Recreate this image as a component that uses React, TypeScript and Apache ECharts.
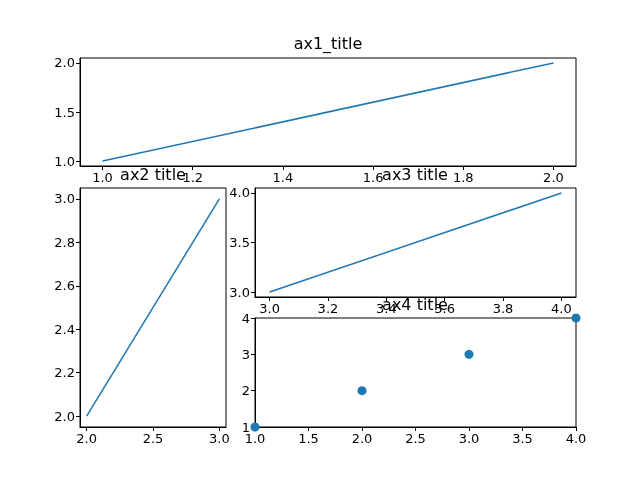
import React, { useEffect, useRef } from "react";
import * as echarts from "echarts";

const ax1X = [1, 2];
const ax1Y = [1, 2];
const ax2X = [2, 3];
const ax2Y = [2, 3];
const ax3X = [3, 4];
const ax3Y = [3, 4];
const ax4X = [1, 2, 3, 4];
const ax4Y = [1, 2, 3, 4];

const ax1XTicks = [1.0, 1.2, 1.4, 1.6, 1.8, 2.0];
const ax1YTicks = [1.0, 1.5, 2.0];
const ax2XTicks = [2.0, 2.5, 3.0];
const ax2YTicks = [2.0, 2.2, 2.4, 2.6, 2.8, 3.0];
const ax3XTicks = [3.0, 3.2, 3.4, 3.6, 3.8, 4.0];
const ax3YTicks = [3.0, 3.5, 4.0];
const ax4XTicks = [1.0, 1.5, 2.0, 2.5, 3.0, 3.5, 4.0];
const ax4YTicks = [1, 2, 3, 4];

const C = "#1f77b4";
const FONT = "DejaVu Sans";

function axis(i: number, min: number, max: number, ticks: number[], dec: number, isX: boolean) {
  return {
    type: "value",
    gridIndex: i,
    min,
    max,
    position: isX ? "bottom" : "left",
    axisLine: { show: true, onZero: false, lineStyle: { color: "#000", width: 1 } },
    axisTick: { show: true, length: 4, lineStyle: { color: "#000" }, customValues: ticks },
    axisLabel: {
      color: "#000",
      fontFamily: FONT,
      fontSize: 13,
      margin: 5,
      customValues: ticks,
      formatter: (v: number) => v.toFixed(dec),
    },
    splitLine: { show: false },
  };
}

const grids = [
  { left: 80, top: 58, width: 496, height: 108 },
  { left: 80, top: 188, width: 146, height: 239 },
  { left: 255, top: 188, width: 321, height: 109 },
  { left: 255, top: 318, width: 321, height: 109 },
].map((g) => ({ ...g, show: true, borderColor: "#000", borderWidth: 1, backgroundColor: "transparent" }));

function title(text: string, x: number, y: number) {
  return { text, left: x, top: y, textAlign: "center", padding: 0, textStyle: { fontFamily: FONT, fontSize: 16, fontWeight: "normal", color: "#000" } };
}

export default function App() {
  const ref = useRef<HTMLDivElement>(null);
  useEffect(() => {
    const chart = echarts.init(ref.current!, null, { renderer: "svg" });
    chart.setOption({
      animation: false,
      title: [
        title("ax1_title", 328, 35),
        title("ax2 title", 153, 166),
        title("ax3 title", 415, 166),
        title("ax4 title", 415, 296),
      ],
      grid: grids,
      xAxis: [
        axis(0, 0.95, 2.05, ax1XTicks, 1, true),
        axis(1, 1.95, 3.05, ax2XTicks, 1, true),
        axis(2, 2.95, 4.05, ax3XTicks, 1, true),
        axis(3, 1, 4, ax4XTicks, 1, true),
      ],
      yAxis: [
        axis(0, 0.95, 2.05, ax1YTicks, 1, false),
        axis(1, 1.95, 3.05, ax2YTicks, 1, false),
        axis(2, 2.95, 4.05, ax3YTicks, 1, false),
        axis(3, 1, 4, ax4YTicks, 0, false),
      ],
      series: [
        { type: "line", xAxisIndex: 0, yAxisIndex: 0, data: ax1X.map((x, i) => [x, ax1Y[i]]), showSymbol: false, lineStyle: { color: C, width: 1.5 } },
        { type: "line", xAxisIndex: 1, yAxisIndex: 1, data: ax2X.map((x, i) => [x, ax2Y[i]]), showSymbol: false, lineStyle: { color: C, width: 1.5 } },
        { type: "line", xAxisIndex: 2, yAxisIndex: 2, data: ax3X.map((x, i) => [x, ax3Y[i]]), showSymbol: false, lineStyle: { color: C, width: 1.5 } },
        { type: "scatter", xAxisIndex: 3, yAxisIndex: 3, data: ax4X.map((x, i) => [x, ax4Y[i]]), symbolSize: 9, itemStyle: { color: C, opacity: 1 }, clip: true },
      ],
    });
    return () => chart.dispose();
  }, []);
  return <div ref={ref} style={{ position: "fixed", left: 0, top: 0, width: 640, height: 480 }} />;
}
